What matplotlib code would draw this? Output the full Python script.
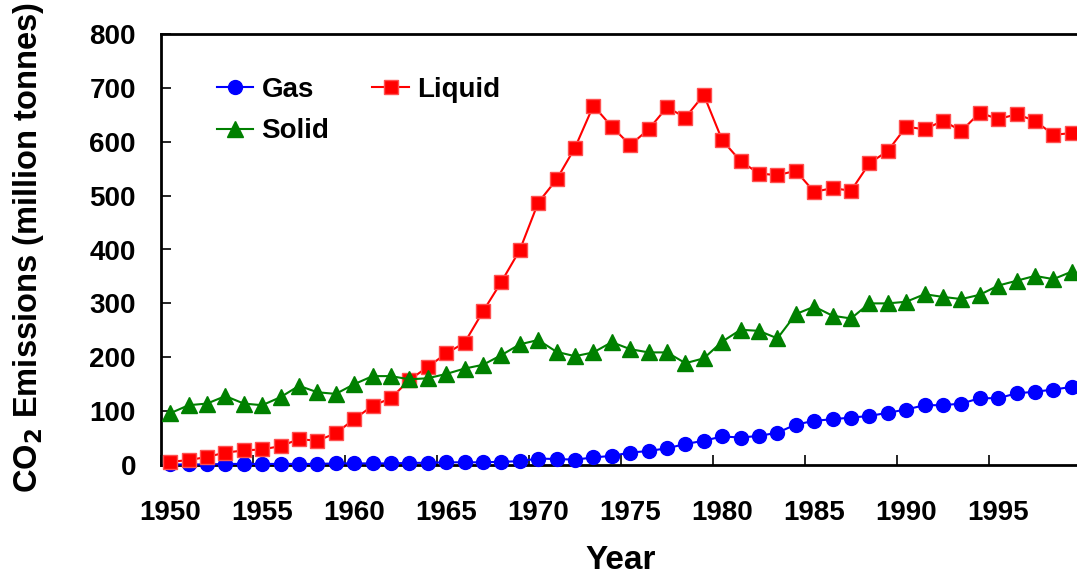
import matplotlib
matplotlib.use("Agg")
import matplotlib.pyplot as plt
from matplotlib.ticker import FixedLocator

years = list(range(1950, 2000))

gas = [1, 1, 1, 2, 2, 2, 2, 2, 2, 3,
       3, 3, 3, 4, 4, 5, 5, 5, 6, 7,
       12, 11, 10, 14, 17, 23, 26, 31, 39, 45,
       53, 51, 54, 60, 75, 82, 85, 88, 91, 97,
       103, 111, 111, 114, 124, 124, 133, 136, 140, 145]

liquid = [6, 9, 15, 23, 27, 29, 35, 48, 45, 59,
          85, 110, 124, 158, 182, 207, 227, 285, 340, 399,
          487, 530, 589, 667, 628, 594, 623, 664, 645, 687,
          603, 564, 541, 538, 546, 507, 514, 509, 560, 583,
          628, 623, 639, 620, 654, 642, 651, 639, 613, 616]

solid = [96, 111, 114, 128, 114, 111, 126, 147, 135, 132,
         150, 165, 165, 159, 161, 169, 179, 186, 204, 224,
         232, 210, 202, 209, 228, 215, 209, 209, 189, 198,
         229, 251, 249, 235, 280, 294, 277, 272, 300, 300,
         303, 317, 312, 308, 316, 333, 342, 351, 345, 359]

tick_label_years = [1950, 1955, 1960, 1965, 1970, 1975, 1980, 1985, 1990, 1995]
y_ticks = [0, 100, 200, 300, 400, 500, 600, 700, 800]

plt.rcParams['font.family'] = ['Liberation Sans', 'DejaVu Sans']
plt.rcParams['font.weight'] = 'bold'

fig = plt.figure(figsize=(10.77, 5.74), dpi=100)
ax = fig.add_axes([161/1077, 109/574, 920/1077, 431/574])

l_gas, = ax.plot(years, gas, color='#0000FF', lw=1.5, marker='o', ms=10,
                 mec='#0000FF', clip_on=False, zorder=3)
l_liq, = ax.plot(years, liquid, color='#FF0000', lw=1.5, marker='s', ms=10.5,
                 mfc='#FF0000', mec='#FF5050', mew=1.0, clip_on=False, zorder=4)
l_sol, = ax.plot(years, solid, color='#008000', lw=1.5, marker='^', ms=11,
                 mec='#008000', clip_on=False, zorder=5)

ax.set_xlim(1949.5, 1999.5)
ax.set_ylim(0, 800)

# tick marks at category boundaries, labels at category centres
boundaries = [y - 0.5 for y in tick_label_years]
ax.xaxis.set_major_locator(FixedLocator(boundaries))
ax.xaxis.set_minor_locator(FixedLocator(tick_label_years))
ax.set_xticklabels([], minor=False)
ax.set_xticklabels([str(y) for y in tick_label_years], minor=True)
ax.tick_params(axis='x', which='major', direction='in', length=7, width=1.2)
ax.tick_params(axis='x', which='minor', length=0, pad=25, labelsize=20)

ax.set_yticks(y_ticks)
ax.tick_params(axis='y', which='major', direction='in', length=7, width=1.2,
               pad=18, labelsize=20)

for lab in ax.get_xticklabels(minor=True) + ax.get_yticklabels():
    lab.set_fontweight('bold')

for s in ['left', 'bottom', 'top']:
    ax.spines[s].set_linewidth(2)
ax.spines['right'].set_visible(False)

ax.set_xlabel('Year', fontsize=24, fontweight='bold')
ax.xaxis.set_label_coords(0.5, -0.185)
ax.set_ylabel('CO$_2$ Emissions (million tonnes)', fontsize=23.5, fontweight='bold')
ax.yaxis.set_label_coords(-0.125, 0.505)

leg = ax.legend([l_gas, l_sol, l_liq], ['Gas', 'Solid', 'Liquid'], ncol=2,
                loc='upper left', bbox_to_anchor=(0.061, 0.9), frameon=False,
                fontsize=20, handlelength=1.3, handletextpad=0.3,
                columnspacing=1.55, labelspacing=0.55, borderpad=0, borderaxespad=0)
for t in leg.get_texts():
    t.set_fontweight('bold')

fig.savefig('out.png', dpi=100)
